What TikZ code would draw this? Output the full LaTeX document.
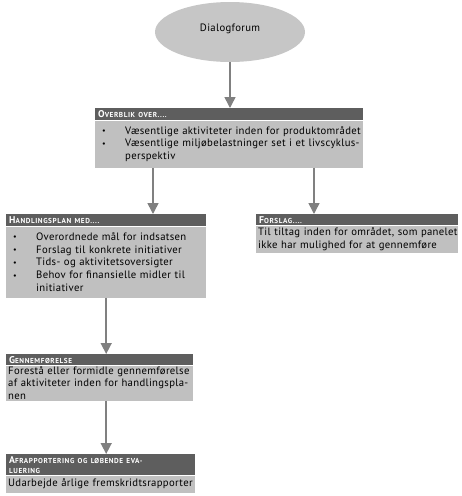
\documentclass[tikz,border=0pt]{standalone}
\usepackage{fontspec}
\setmainfont{PT Sans}
\usetikzlibrary{shapes.geometric,positioning,arrows.meta}

\definecolor{hdrgray}{HTML}{5E5E5E}
\definecolor{bodygray}{HTML}{C0C0C0}
\definecolor{ellgray}{HTML}{C6C6C6}
\definecolor{arrgray}{HTML}{808080}

\newcommand\bodyfont{\fontsize{10.7}{12.8}\selectfont\addfontfeatures{LetterSpace=3}}
\newcommand\hdrfont{\fontsize{9.8}{10}\selectfont\bfseries}
% fake small caps for the headers
\newcommand\hsc[2]{#1{\fontsize{7.2}{10}\selectfont\addfontfeatures{LetterSpace=8}#2}}
\newcommand\bul{\makebox[28pt][l]{\hspace{5pt}\raisebox{0.6pt}{\fontsize{8}{8}\selectfont\textbullet}}}
\newcommand\ind{\hspace*{28pt}}

\begin{document}
\begin{tikzpicture}[x=1pt,y=-1pt,
    hdr/.style={fill=hdrgray,text=white,anchor=north west,inner xsep=3pt,inner ysep=0pt,align=left,font=\hdrfont},
    body/.style={fill=bodygray,anchor=north west,inner xsep=2pt,inner ysep=0pt,align=left,font=\bodyfont},
    arr/.style={draw=arrgray,line width=1.5pt,-{Triangle[width=11pt,length=11pt]}}]
    \useasboundingbox (0,0) rectangle (462,496);

    % Dialogforum
    \node[ellipse,fill=ellgray,minimum width=150pt,minimum height=60pt,font=\bodyfont] (df) at (230,32) {\raisebox{9pt}{Dialogforum}};

    % Overblik
    \node[hdr,text width=262pt,minimum height=12pt] (ovh) at (95,108) {\hsc{O}{VERBLIK OVER....}};
    \node[body,text width=264pt,minimum height=47pt] (ovb) at (ovh.south west)
        {\bul Væsentlige aktiviteter inden for produktområdet\\
         \bul Væsentlige miljøbelastninger set i et livscyklus-\\
         \ind perspektiv};

    % Handlingsplan
    \node[hdr,text width=194pt,minimum height=12pt] (hph) at (6,214) {\hsc{H}{ANDLINGSPLAN MED....}};
    \node[body,text width=196pt,minimum height=71pt] (hpb) at (hph.south west)
        {\bul Overordnede mål for indsatsen\\
         \bul Forslag til konkrete initiativer\\
         \bul Tids- og aktivitetsoversigter\\
         \bul Behov for finansielle midler til\\
         \ind initiativer};

    % Forslag
    \node[hdr,text width=196pt,minimum height=11pt] (fsh) at (256,214) {\hsc{F}{ORSLAG....}};
    \node[body,text width=198pt,minimum height=27pt] (fsb) at (fsh.south west)
        {Til tiltag inden for området, som panelet\\
         ikke har mulighed for at gennemføre};

    % Gennemfoerelse
    \node[hdr,text width=181pt,minimum height=11pt] (gfh) at (6,354) {\hsc{G}{ENNEMFØRELSE}};
    \node[body,text width=183pt,minimum height=35pt] (gfb) at (gfh.south west)
        {Forestå eller formidle gennemførelse\\
         af aktiviteter inden for handlingspla-\\
         nen};

    % Afrapportering
    \node[hdr,text width=183pt,minimum height=21pt] (afh) at (6,454)
        {\hsc{A}{FRAPPORTERING OG LØBENDE EVA-}\\\hsc{}{LUERING}};
    \node[body,text width=185pt,minimum height=17pt] (afb) at (afh.south west)
        {Udarbejde årlige fremskridtsrapporter};

    % Connectors
    \draw[arr] (df.south) -- (df.south |- ovh.north);
    \draw[arr] ([xshift=58pt]ovb.south west) -- ([xshift=58pt]ovb.south west |- hph.north);
    \draw[arr] ([xshift=219pt]ovb.south west) -- ([xshift=219pt]ovb.south west |- fsh.north);
    \draw[arr] (hpb.south) -- (hpb.south |- gfh.north);
    \draw[arr] (hpb.south |- gfb.south) -- (hpb.south |- afh.north);
\end{tikzpicture}
\end{document}
